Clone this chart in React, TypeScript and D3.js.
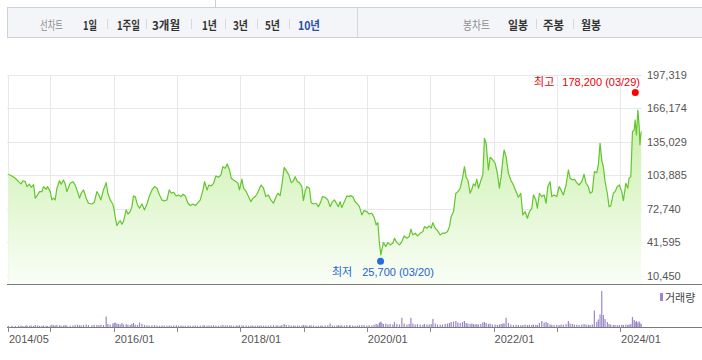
import React, { useEffect, useRef } from 'react'
import * as d3 from 'd3'

// 날짜 (소수 연도)
const dates = [
  2014.333, 2014.391, 2014.444, 2014.496, 2014.534, 2014.565, 2014.602, 2014.628, 2014.669, 2014.696,
  2014.733, 2014.760, 2014.796, 2014.827, 2014.865, 2014.891, 2014.933, 2014.954, 2014.996, 2015.023,
  2015.049, 2015.075, 2015.102, 2015.143, 2015.170, 2015.206, 2015.233, 2015.260, 2015.312, 2015.355,
  2015.391, 2015.428, 2015.459, 2015.486, 2015.522, 2015.565, 2015.601, 2015.655, 2015.691, 2015.734,
  2015.766, 2015.797, 2015.838, 2015.881, 2015.908, 2015.944, 2015.987, 2016.007, 2016.023, 2016.050,
  2016.075, 2016.102, 2016.129, 2016.154, 2016.197, 2016.224, 2016.260, 2016.287, 2016.312, 2016.339,
  2016.375, 2016.407, 2016.445, 2016.486, 2016.524, 2016.560, 2016.603, 2016.644, 2016.682, 2016.723,
  2016.761, 2016.797, 2016.840, 2016.876, 2016.908, 2016.944, 2016.987, 2017.023, 2017.061, 2017.093,
  2017.129, 2017.172, 2017.208, 2017.251, 2017.287, 2017.323, 2017.366, 2017.409, 2017.434, 2017.472,
  2017.503, 2017.540, 2017.576, 2017.614, 2017.655, 2017.693, 2017.724, 2017.761, 2017.792, 2017.829,
  2017.855, 2017.892, 2017.934, 2017.961, 2017.986, 2018.024, 2018.050, 2018.092, 2018.129, 2018.166,
  2018.198, 2018.234, 2018.271, 2018.302, 2018.329, 2018.366, 2018.403, 2018.444, 2018.482, 2018.523,
  2018.566, 2018.593, 2018.629, 2018.656, 2018.693, 2018.725, 2018.767, 2018.803, 2018.840, 2018.866,
  2018.903, 2018.934, 2018.972, 2018.997, 2019.024, 2019.051, 2019.092, 2019.119, 2019.155, 2019.198,
  2019.234, 2019.272, 2019.297, 2019.340, 2019.383, 2019.419, 2019.455, 2019.487, 2019.525, 2019.550,
  2019.577, 2019.604, 2019.645, 2019.683, 2019.724, 2019.735, 2019.777, 2019.814, 2019.850, 2019.882,
  2019.920, 2019.956, 2019.999, 2020.035, 2020.078, 2020.114, 2020.146, 2020.173, 2020.198, 2020.220,
  2020.236, 2020.261, 2020.299, 2020.331, 2020.367, 2020.410, 2020.435, 2020.473, 2020.514, 2020.552,
  2020.588, 2020.631, 2020.667, 2020.694, 2020.725, 2020.762, 2020.798, 2020.841, 2020.883, 2020.908,
  2020.947, 2020.983, 2021.014, 2021.041, 2021.078, 2021.114, 2021.157, 2021.193, 2021.236, 2021.272,
  2021.303, 2021.330, 2021.367, 2021.404, 2021.436, 2021.473, 2021.509, 2021.540, 2021.567, 2021.594,
  2021.630, 2021.657, 2021.682, 2021.709, 2021.736, 2021.761, 2021.799, 2021.831, 2021.856, 2021.883,
  2021.919, 2021.946, 2021.982, 2022.025, 2022.061, 2022.093, 2022.120, 2022.147, 2022.167, 2022.199,
  2022.235, 2022.273, 2022.314, 2022.357, 2022.393, 2022.431, 2022.463, 2022.499, 2022.536, 2022.567,
  2022.605, 2022.631, 2022.668, 2022.693, 2022.725, 2022.763, 2022.800, 2022.831, 2022.858, 2022.894,
  2022.921, 2022.957, 2023.000, 2023.036, 2023.068, 2023.104, 2023.147, 2023.183, 2023.210, 2023.246,
  2023.278, 2023.316, 2023.352, 2023.395, 2023.431, 2023.463, 2023.499, 2023.526, 2023.562, 2023.594,
  2023.632, 2023.657, 2023.684, 2023.711, 2023.736, 2023.763, 2023.799, 2023.826, 2023.853, 2023.894,
  2023.921, 2023.957, 2023.989, 2024.027, 2024.053, 2024.091, 2024.122, 2024.143, 2024.170, 2024.196,
  2024.223, 2024.238, 2024.259, 2024.281, 2024.302, 2024.313, 2024.333,
]

// 종가 (천원)
const closes = [
  104.8, 103.2, 101.1, 97.9, 95.8, 98.8, 97.9, 93.3, 95.5, 92.7,
  95.1, 82.5, 85.5, 88.6, 88.6, 93.3, 90.8, 93.3, 88.6, 80.9,
  82.5, 80.9, 91.8, 98.8, 95.5, 99.5, 95.8, 88.6, 96.4, 97.9,
  94.8, 88.6, 82.5, 87.1, 90.2, 82.5, 77.8, 77.1, 78.4, 88.6,
  85.5, 80.9, 90.2, 97.0, 87.1, 80.9, 76.9, 71.6, 65.3, 56.9,
  59.7, 61.6, 58.2, 60.7, 71.6, 67.8, 70.0, 74.6, 84.6, 84.0,
  76.2, 73.1, 77.1, 71.6, 77.1, 84.0, 90.2, 93.3, 91.8, 85.5,
  80.9, 79.9, 80.9, 90.2, 87.1, 88.0, 84.6, 85.5, 84.0, 86.2,
  84.6, 77.8, 75.6, 77.1, 75.6, 77.8, 80.9, 90.2, 97.9, 90.2,
  94.8, 93.9, 96.4, 103.2, 102.0, 104.2, 111.9, 110.4, 114.4, 108.8,
  101.1, 99.5, 97.9, 96.4, 90.2, 100.2, 91.8, 88.6, 84.0, 79.3,
  82.5, 84.0, 87.1, 91.8, 94.8, 91.8, 84.0, 85.5, 80.9, 77.8,
  84.0, 87.1, 84.9, 94.8, 111.3, 108.2, 104.2, 97.0, 98.8, 102.6,
  97.9, 97.0, 93.3, 80.2, 88.6, 93.3, 91.8, 78.4, 77.1, 77.8,
  74.6, 79.3, 84.0, 83.4, 80.9, 74.6, 79.3, 80.9, 77.1, 74.6,
  79.3, 73.7, 79.3, 84.6, 84.0, 84.9, 84.0, 79.3, 77.1, 74.6,
  66.9, 70.9, 70.0, 67.8, 68.5, 64.8, 57.6, 59.7, 40.5, 29.6,
  34.3, 41.1, 37.4, 41.1, 39.0, 40.5, 45.2, 41.1, 39.0, 42.0,
  47.3, 45.2, 46.7, 53.6, 48.3, 49.9, 47.3, 49.9, 51.4, 56.0,
  54.5, 56.7, 54.5, 59.7, 54.5, 52.3, 48.3, 49.9, 49.9, 51.4,
  56.0, 65.3, 70.0, 87.1, 88.6, 91.8, 101.1, 111.9, 102.0, 99.5,
  87.1, 90.8, 95.8, 93.9, 100.2, 91.8, 98.8, 104.2, 138.3, 133.7,
  108.8, 120.6, 118.8, 115.1, 105.7, 91.8, 102.6, 118.1, 127.4, 121.2,
  105.7, 99.5, 94.8, 88.6, 83.4, 87.1, 66.9, 70.0, 63.8, 70.0,
  73.1, 85.5, 80.9, 73.1, 87.1, 84.0, 85.5, 77.8, 93.3, 97.9,
  84.0, 85.5, 84.0, 93.3, 90.2, 85.5, 94.8, 108.8, 101.1, 99.5,
  100.2, 97.0, 94.8, 97.9, 104.8, 96.4, 93.3, 87.1, 88.6, 107.2,
  106.3, 113.5, 133.7, 118.1, 111.9, 97.9, 87.1, 74.6, 75.3, 87.1,
  88.6, 93.3, 94.8, 88.6, 80.2, 96.4, 91.8, 101.1, 102.6, 144.5,
  146.1, 155.4, 141.4, 164.7, 149.2, 132.3, 144.7,
]

// 거래량 (천주)
const volumes = [
  250, 300, 200, 250, 300, 200, 250, 350, 250, 300, 200, 400, 300, 250, 250, 300, 250, 200, 300, 450,
  350, 300, 400, 350, 250, 300, 400, 300, 250, 300, 400, 450, 350, 300, 400, 500, 400, 350, 450, 400,
  350, 450, 400, 2100, 600, 500, 700, 800, 900, 700, 600, 500, 800, 500, 600, 450, 400, 600, 800, 450,
  400, 900, 600, 400, 350, 300, 350, 400, 300, 250, 300, 300, 250, 300, 250, 300, 350, 250, 300, 250,
  250, 300, 250, 250, 300, 250, 300, 350, 300, 250, 300, 300, 350, 300, 250, 300, 400, 300, 350, 300,
  300, 250, 300, 250, 350, 300, 250, 300, 250, 300, 300, 250, 300, 250, 300, 250, 300, 250, 300, 350,
  300, 300, 250, 400, 600, 400, 350, 300, 300, 250, 300, 250, 300, 400, 350, 300, 300, 350, 300, 250,
  250, 300, 250, 300, 350, 700, 300, 250, 300, 350, 300, 350, 300, 400, 300, 350, 300, 250, 300, 350,
  400, 350, 300, 350, 300, 450, 600, 500, 900, 1100, 800, 600, 700, 500, 600, 500, 1000, 600, 500, 1850,
  700, 500, 600, 1850, 700, 500, 600, 500, 450, 600, 500, 500, 600, 1600, 700, 500, 450, 500, 600, 700,
  800, 1000, 1100, 1200, 900, 800, 1000, 1200, 800, 700, 600, 700, 600, 500, 600, 500, 600, 900, 1000, 800,
  600, 700, 500, 500, 400, 500, 600, 700, 700, 1850, 800, 500, 400, 450, 400, 350, 400, 500, 400, 450,
  400, 500, 450, 400, 800, 1200, 900, 1000, 800, 500, 450, 400, 450, 400, 500, 450, 600, 1200, 700, 600,
  500, 450, 400, 500, 600, 500, 450, 400, 500, 3300, 1000, 1500, 2500, 7200, 2400, 1600, 1000, 600, 500, 400,
  400, 350, 400, 450, 400, 500, 400, 500, 600, 2000, 1400, 1000, 1200, 900, 1100, 800, 600,
]

const yTicks = [10450, 41595, 72740, 103885, 135029, 166174, 197319]
const xTickDates = ['2014-05', '2015-01', '2016-01', '2017-01', '2018-01', '2019-01', '2020-01', '2021-01', '2022-01', '2023-01', '2024-01']
const xLabelDates = ['2014-05', '2016-01', '2018-01', '2020-01', '2022-01', '2024-01']

const high = { date: '2024-03-29', value: 178200, text: '178,200 (03/29)' }
const low = { date: '2020-03-20', value: 25700, text: '25,700 (03/20)' }

const lineTabs = ['1일', '1주일', '3개월', '1년', '3년', '5년', '10년']
const candleTabs = ['일봉', '주봉', '월봉']

const FONT = '"Liberation Sans", "Noto Sans CJK KR", sans-serif'
const KFONT = '"Noto Sans CJK KR", sans-serif'

const fromDecimal = (t: number) => {
  const y = Math.floor(t)
  const s = new Date(y, 0, 1).getTime()
  const e = new Date(y + 1, 0, 1).getTime()
  return new Date(s + (t - y) * (e - s))
}
const parseYm = d3.timeParse('%Y-%m')
const parseYmd = d3.timeParse('%Y-%m-%d')
const fmtYm = d3.timeFormat('%Y/%m')

export default function App() {
  const svgRef = useRef<SVGSVGElement | null>(null)

  useEffect(() => {
    const width = 702, height = 360
    const svg = d3.select(svgRef.current).attr('width', width).attr('height', height)
    svg.selectAll('*').remove()

    const data = dates.map((t, i) => ({ date: fromDecimal(t), close: closes[i] * 1000, vol: volumes[i] }))

    const plotTop = 75, plotBottom = 284, volBase = 327
    const x = d3.scaleTime().domain([new Date(2014, 4, 1), new Date(2024, 4, 1)]).range([8, 641])
    const y = d3.scaleLinear().domain([10450, 197319]).range([275.5, plotTop])
    const v = d3.scaleLinear().domain([0, 7200]).range([volBase, 291])
    const px = (n: number) => Math.round(n) + 0.5

    // 상단 탭 바
    const bar = svg.append('g').attr('font-family', KFONT).attr('font-size', 12)
    bar.append('line').attr('x1', 215.5).attr('x2', 215.5).attr('y1', 0).attr('y2', 7).attr('stroke', '#cccccc')
    bar.append('rect').attr('x', 7.5).attr('y', 7.5).attr('width', 700).attr('height', 30)
      .attr('fill', '#f4f5f8').attr('stroke', '#cfd0d3')
    bar.append('line').attr('x1', 357.5).attr('x2', 357.5).attr('y1', 8).attr('y2', 38).attr('stroke', '#d6d7da')

    // 탭 레이아웃: [시작 x, 폭]
    const lineLayout = [[83, 14], [117, 23], [152, 28], [202, 15], [233, 15], [265, 15], [298, 22]]
    const candleLayout = [[508, 20], [543, 21], [581, 20]]
    bar.append('text').attr('x', 40).attr('y', 24).attr('dominant-baseline', 'central')
      .attr('textLength', 23).attr('lengthAdjust', 'spacingAndGlyphs').attr('fill', '#8c8c8c').text('선차트')
    bar.append('text').attr('x', 463).attr('y', 24).attr('dominant-baseline', 'central')
      .attr('textLength', 27).attr('lengthAdjust', 'spacingAndGlyphs').attr('fill', '#8c8c8c').text('봉차트')
    const drawTabs = (labels: string[], layout: number[][], active: number) => {
      labels.forEach((label, i) => {
        const [sx, w] = layout[i]
        bar.append('text').attr('x', sx).attr('y', 24).attr('dominant-baseline', 'central')
          .attr('textLength', w).attr('lengthAdjust', 'spacingAndGlyphs')
          .attr('font-weight', 'bold').attr('fill', i === active ? '#2a4ea6' : '#333333').text(label)
        if (i > 0) {
          const [px0, w0] = layout[i - 1]
          const lx = px((px0 + w0 + sx) / 2)
          bar.append('line').attr('x1', lx).attr('x2', lx).attr('y1', 19).attr('y2', 29).attr('stroke', '#d8d8d8')
        }
      })
    }
    drawTabs(lineTabs, lineLayout, 6)
    drawTabs(candleTabs, candleLayout, -1)

    // 그라디언트
    const grad = svg.append('defs').append('linearGradient').attr('id', 'areaFill')
      .attr('gradientUnits', 'userSpaceOnUse').attr('x1', 0).attr('x2', 0).attr('y1', plotTop).attr('y2', plotBottom)
    grad.append('stop').attr('offset', 0).attr('stop-color', '#bdec98')
    grad.append('stop').attr('offset', 1).attr('stop-color', '#fafef7')

    // 그리드
    const grid = svg.append('g').attr('stroke', '#e8e8e8')
    grid.selectAll('line.h').data(yTicks).join('line').attr('class', 'h')
      .attr('x1', 7).attr('x2', 642).attr('y1', d => px(y(d))).attr('y2', d => px(y(d)))
    grid.selectAll('line.v').data(xTickDates).join('line').attr('class', 'v')
      .attr('x1', d => px(x(parseYm(d)!))).attr('x2', d => px(x(parseYm(d)!)))
      .attr('y1', plotTop).attr('y2', plotBottom)

    // 영역 + 선
    const area = d3.area<typeof data[0]>().x(d => x(d.date)).y0(plotBottom).y1(d => y(d.close))
    const line = d3.line<typeof data[0]>().x(d => x(d.date)).y(d => y(d.close))
    svg.append('path').datum(data).attr('d', area).attr('fill', 'url(#areaFill)')
    svg.append('path').datum(data).attr('d', line).attr('fill', 'none')
      .attr('stroke', '#62c62c').attr('stroke-width', 1.2).attr('stroke-linejoin', 'round')

    // y축 라벨
    svg.append('g').selectAll('text').data(yTicks).join('text')
      .attr('x', 647).attr('y', d => y(d)).attr('dominant-baseline', 'central')
      .attr('font-family', FONT).attr('font-size', 11).attr('fill', '#555555')
      .text(d => d3.format(',')(d))

    // 최고/최저
    const hx = x(parseYmd(high.date)!), hy = y(high.value) - 3
    svg.append('circle').attr('cx', hx).attr('cy', hy).attr('r', 3.5).attr('fill', '#ff0000')
    const ht = svg.append('text').attr('x', 640).attr('y', 82).attr('text-anchor', 'end').attr('dominant-baseline', 'central')
      .attr('font-family', FONT).attr('font-size', 11).attr('fill', '#e8000b')
    ht.append('tspan').text('최고')
    ht.append('tspan').attr('dx', 8).text(high.text)

    const lx = x(parseYmd(low.date)!), ly = y(low.value) + 2
    svg.append('circle').attr('cx', lx).attr('cy', ly).attr('r', 3.5).attr('fill', '#1f6fe0')
    const lt = svg.append('text').attr('x', 332).attr('y', 272).attr('dominant-baseline', 'central')
      .attr('font-family', FONT).attr('font-size', 11).attr('fill', '#1d62d4')
    lt.append('tspan').text('최저')
    lt.append('tspan').attr('dx', 10).text(low.text)

    // 구분선
    svg.append('line').attr('x1', 7).attr('x2', width).attr('y1', plotBottom + 0.5).attr('y2', plotBottom + 0.5).attr('stroke', '#7a7a7a')

    // 거래량
    svg.append('g').selectAll('rect').data(data).join('rect')
      .attr('x', d => x(d.date) - 0.6).attr('width', 1.2)
      .attr('y', d => v(d.vol)).attr('height', d => volBase - v(d.vol))
      .attr('fill', '#9a86c9')
    svg.append('rect').attr('x', 660).attr('y', 293).attr('width', 3).attr('height', 8).attr('fill', '#9a86c9')
    svg.append('text').attr('x', 665).attr('y', 297).attr('dominant-baseline', 'central')
      .attr('font-family', KFONT).attr('font-size', 11).attr('fill', '#444444').text('거래량')

    // x축
    svg.append('line').attr('x1', 7).attr('x2', width).attr('y1', volBase + 0.5).attr('y2', volBase + 0.5).attr('stroke', '#7a7a7a')
    svg.append('g').selectAll('line').data(xTickDates).join('line')
      .attr('x1', d => px(x(parseYm(d)!))).attr('x2', d => px(x(parseYm(d)!)))
      .attr('y1', volBase).attr('y2', volBase + 5).attr('stroke', '#8a8a8a')
    svg.append('g').selectAll('text').data(xLabelDates).join('text')
      .attr('x', d => x(parseYm(d)!) + 1).attr('y', 339).attr('dominant-baseline', 'central')
      .attr('font-family', FONT).attr('font-size', 11).attr('fill', '#555555')
      .text(d => fmtYm(parseYm(d)!))
  }, [])

  return (
    <>
      <style>{'body{margin:0}'}</style>
      <svg ref={svgRef}></svg>
    </>
  )
}
